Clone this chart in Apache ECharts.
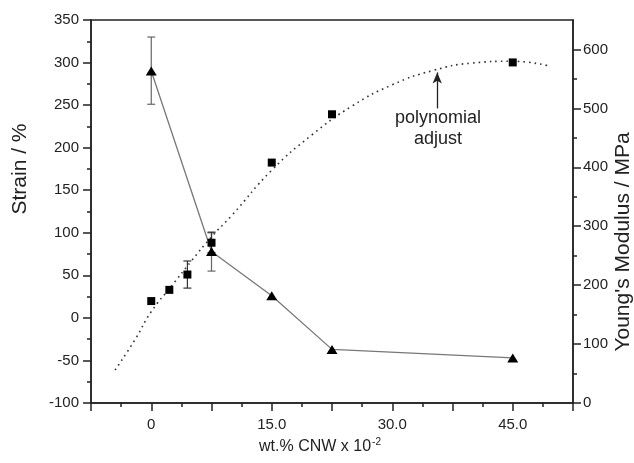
<!DOCTYPE html>
<html>
<head>
<meta charset="utf-8">
<script src="https://cdn.jsdelivr.net/npm/echarts@6/dist/echarts.min.js"></script>
<style>
  html, body { margin: 0; padding: 0; background: #fff; }
  #main { width: 634px; height: 463px; }
</style>
</head>
<body>
<div id="main"></div>
<script>
// strain (triangles, left axis)
var strainX = [0, 7.5, 15, 22.5, 45];
var strainY = [290, 78, 26, -37, -47];
var strainErr = [[0, 251, 330], [7.5, 55, 100]];

// young's modulus (squares, right axis)
var modX = [0, 2.25, 4.5, 7.5, 15, 22.5, 45];
var modY = [173, 192, 218, 272, 408, 490, 578];
var modErr = [[4.5, 195, 241], [7.5, 255, 290]];

// polynomial fit
var fitX = [-4.5, -2, 0, 2.5, 5, 7.5, 10, 15, 20, 25, 30, 35, 40, 45, 49.5];
var fitY = [56, 108, 155, 198, 241, 282, 318, 395, 455, 504, 540, 564, 577, 580, 572];

var xMajor = [0, 15, 30, 45];
var rightMajor = [0, 100, 200, 300, 400, 500, 600];
var rightMinor = [50, 150, 250, 350, 450, 550];

var FONT = 'Liberation Sans, Arial, sans-serif';
var INK = '#222';

function zip(a, b) {
  return a.map(function (v, i) { return [v, b[i]]; });
}

function errBar(color) {
  return function (params, api) {
    var x = api.value(0);
    var top = api.coord([x, api.value(2)]);
    var bot = api.coord([x, api.value(1)]);
    var w = 4;
    var st = { stroke: color, lineWidth: 1.2 };
    return {
      type: 'group',
      children: [
        { type: 'line', shape: { x1: top[0], y1: top[1], x2: bot[0], y2: bot[1] }, style: st },
        { type: 'line', shape: { x1: top[0] - w, y1: top[1], x2: top[0] + w, y2: top[1] }, style: st },
        { type: 'line', shape: { x1: bot[0] - w, y1: bot[1], x2: bot[0] + w, y2: bot[1] }, style: st }
      ]
    };
  };
}

var myChart = echarts.init(document.getElementById('main'), null, { renderer: 'canvas' });

var option = {
  animation: false,
  backgroundColor: '#fff',
  grid: {
    left: 91, right: 61, top: 20, bottom: 60,
    show: true, borderColor: INK, borderWidth: 1.5, backgroundColor: 'transparent'
  },
  xAxis: {
    type: 'value', min: -7.5, max: 52.5, interval: 7.5,
    name: 'wt.% CNW x 10{sup|-2}',
    nameLocation: 'middle', nameGap: 30,
    nameTextStyle: {
      fontFamily: FONT, fontSize: 16, color: INK, padding: [0, 24, 0, 0],
      rich: { sup: { fontFamily: FONT, fontSize: 10, color: INK, padding: [0, 0, 10, 1] } }
    },
    axisLine: { onZero: false, lineStyle: { color: INK, width: 1.5 } },
    axisTick: { length: 8, lineStyle: { color: INK, width: 1.5 } },
    minorTick: { show: true, splitNumber: 2, length: 4, lineStyle: { color: INK, width: 1.5 } },
    splitLine: { show: false },
    axisLabel: {
      fontFamily: FONT, fontSize: 15, color: INK, margin: 14,
      formatter: function (v) {
        if (xMajor.indexOf(v) < 0) return '';
        return v === 0 ? '0' : v.toFixed(1);
      }
    }
  },
  yAxis: [
    {
      type: 'value', min: -100, max: 350, interval: 50, position: 'left',
      axisLine: { show: true, onZero: false, lineStyle: { color: INK, width: 1.5 } },
      axisTick: { show: true, length: 8, lineStyle: { color: INK, width: 1.5 } },
      minorTick: { show: true, splitNumber: 2, length: 4, lineStyle: { color: INK, width: 1.5 } },
      splitLine: { show: false },
      axisLabel: { fontFamily: FONT, fontSize: 15, color: INK, margin: 12 }
    },
    {
      type: 'value', min: 0, max: 650, interval: 50, position: 'right',
      axisLine: { show: true, onZero: false, lineStyle: { color: INK, width: 1.5 } },
      axisTick: { show: true, length: 8, customValues: rightMajor, lineStyle: { color: INK, width: 1.5 } },
      splitLine: { show: false },
      axisLabel: { fontFamily: FONT, fontSize: 15, color: INK, margin: 10, customValues: rightMajor }
    },
    {
      type: 'value', min: 0, max: 650, interval: 50, position: 'right',
      axisLine: { show: false, onZero: false },
      axisTick: { show: true, length: 4, customValues: rightMinor, lineStyle: { color: INK, width: 1.5 } },
      splitLine: { show: false },
      axisLabel: { show: false }
    }
  ],
  graphic: [
    {
      type: 'text', x: 20, y: 169, rotation: Math.PI / 2,
      style: { text: 'Strain / %', font: '21px ' + FONT, fill: INK, textAlign: 'center', textVerticalAlign: 'middle' }
    },
    {
      type: 'text', x: 623, y: 242, rotation: Math.PI / 2,
      style: { text: "Young's Modulus / MPa", font: '21px ' + FONT, fill: INK, textAlign: 'center', textVerticalAlign: 'middle' }
    },
    {
      type: 'text', x: 438, y: 129,
      style: { text: 'polynomial\nadjust', font: '18px ' + FONT, fill: INK, textAlign: 'center', textVerticalAlign: 'middle', lineHeight: 21 }
    }
  ],
  series: [
    {
      name: 'fit', type: 'line', yAxisIndex: 1, smooth: true, showSymbol: false,
      data: zip(fitX, fitY),
      lineStyle: { color: '#333', width: 1.6, type: [1.6, 4] },
      markLine: {
        silent: true, symbol: ['none', 'arrow'], symbolSize: [7, 11],
        lineStyle: { color: INK, width: 1.3, type: 'solid' },
        label: { show: false },
        data: [[{ coord: [35.6, 500] }, { coord: [35.6, 561] }]]
      },
      z: 2
    },
    {
      name: 'strainErr', type: 'custom', yAxisIndex: 0,
      renderItem: errBar('#666'), data: strainErr, encode: { x: 0, y: [1, 2] }, z: 3
    },
    {
      name: 'modErr', type: 'custom', yAxisIndex: 1,
      renderItem: errBar('#333'), data: modErr, encode: { x: 0, y: [1, 2] }, z: 3
    },
    {
      name: 'Strain', type: 'line', yAxisIndex: 0,
      data: zip(strainX, strainY),
      symbol: 'triangle', symbolSize: [11, 9],
      itemStyle: { color: '#000' },
      lineStyle: { color: '#777', width: 1.3 },
      z: 4
    },
    {
      name: 'Modulus', type: 'scatter', yAxisIndex: 1,
      data: zip(modX, modY),
      symbol: 'rect', symbolSize: 8,
      itemStyle: { color: '#000', opacity: 1 },
      z: 5
    }
  ]
};

myChart.setOption(option);
</script>
</body>
</html>
